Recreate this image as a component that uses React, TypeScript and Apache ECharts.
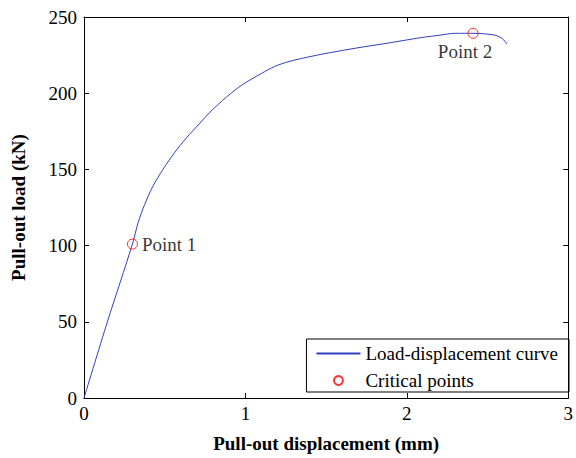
import React, { useEffect, useRef } from "react";
import * as echarts from "echarts";

const dispX = [0, 0.145, 0.3, 0.335, 0.376, 0.427, 0.489, 0.561, 0.633, 0.715, 0.78, 0.883, 0.98, 1.1, 1.18, 1.27, 1.37, 1.47, 1.68, 1.89, 2.09, 2.2, 2.3, 2.41, 2.54, 2.59, 2.62];
const loadY = [0, 50, 101, 115, 127, 139, 150, 161, 170.5, 180, 187.5, 197.5, 205.5, 213, 217.5, 220.8, 223.3, 225.5, 229.5, 233, 236.5, 238, 239.3, 239.3, 238.2, 236, 232.3];

const criticalX = [0.3, 2.41];
const criticalY = [101, 239.3];
const criticalNames = ["Point 1", "Point 2"];

const xTicks = [0, 1, 2, 3];
const yTicks = [0, 50, 100, 150, 200, 250];

const FONT = "Liberation Serif";

export default function App() {
  const ref = useRef<HTMLDivElement>(null);
  useEffect(() => {
    if (!ref.current) return;
    const chart = echarts.init(ref.current, null, { renderer: "svg" });
    const axisCommon = {
      axisLine: { show: true, onZero: false, lineStyle: { color: "#000", width: 1 } },
      axisTick: { show: true, inside: true, length: 5, lineStyle: { color: "#000" } },
      splitLine: { show: false },
    };
    chart.setOption({
      animation: false,
      backgroundColor: "#fff",
      grid: { left: 84, right: 4, top: 17, bottom: 59, containLabel: false },
      xAxis: [
        {
          type: "value",
          min: xTicks[0],
          max: xTicks[xTicks.length - 1],
          interval: 1,
          position: "bottom",
          ...axisCommon,
          axisLabel: { color: "#000", fontFamily: FONT, fontSize: 19, margin: 6 },
          name: "Pull-out displacement (mm)",
          nameLocation: "middle",
          nameGap: 36,
          nameTextStyle: { color: "#000", fontFamily: FONT, fontSize: 19, fontWeight: "bold" },
        },
        {
          type: "value",
          min: xTicks[0],
          max: xTicks[xTicks.length - 1],
          interval: 1,
          position: "top",
          ...axisCommon,
          axisLabel: { show: false },
        },
      ],
      yAxis: [
        {
          type: "value",
          min: yTicks[0],
          max: yTicks[yTicks.length - 1],
          interval: 50,
          position: "left",
          ...axisCommon,
          axisLabel: { color: "#000", fontFamily: FONT, fontSize: 19, margin: 7 },
          name: "Pull-out load (kN)",
          nameLocation: "middle",
          nameGap: 56,
          nameTextStyle: { color: "#000", fontFamily: FONT, fontSize: 19, fontWeight: "bold" },
        },
        {
          type: "value",
          min: yTicks[0],
          max: yTicks[yTicks.length - 1],
          interval: 50,
          position: "right",
          ...axisCommon,
          axisLabel: { show: false },
        },
      ],
      legend: {
        orient: "vertical",
        right: 7,
        bottom: 66,
        borderColor: "#000",
        borderWidth: 1,
        borderRadius: 0,
        padding: [5, 11, 2, 9],
        itemWidth: 44,
        itemHeight: 9,
        itemGap: 8,
        textStyle: { color: "#000", fontFamily: FONT, fontSize: 19, lineHeight: 19, padding: [0, 0, 0, 0] },
        data: [
          { name: "Load-displacement curve", itemStyle: { opacity: 0 } },
          { name: "Critical points" },
        ],
      },
      series: [
        {
          name: "Load-displacement curve",
          type: "line",
          data: dispX.map((x, i) => [x, loadY[i]]),
          symbol: "none",
          smooth: 0.3,
          lineStyle: { color: "#3040c0", width: 1 },
          itemStyle: { color: "#3040c0" },
          z: 2,
        },
        {
          name: "Critical points",
          type: "scatter",
          data: criticalX.map((x, i) => ({
            value: [x, criticalY[i]],
            label: {
              show: true,
              formatter: criticalNames[i],
              position: i === 0 ? "right" : "bottom",
              distance: i === 0 ? 4 : 3,
              offset: i === 0 ? [0, 0] : [-8, 0],
              color: "#000",
              fontFamily: FONT,
              fontSize: 19,
            },
          })),
          symbol: "circle",
          symbolSize: 10,
          itemStyle: { color: "transparent", borderColor: "#ff0000", borderWidth: 1 },
          z: 3,
        },
      ],
    });
    return () => chart.dispose();
  }, []);
  return <div ref={ref} style={{ position: "fixed", left: 0, top: 0, width: 576, height: 458 }} />;
}
